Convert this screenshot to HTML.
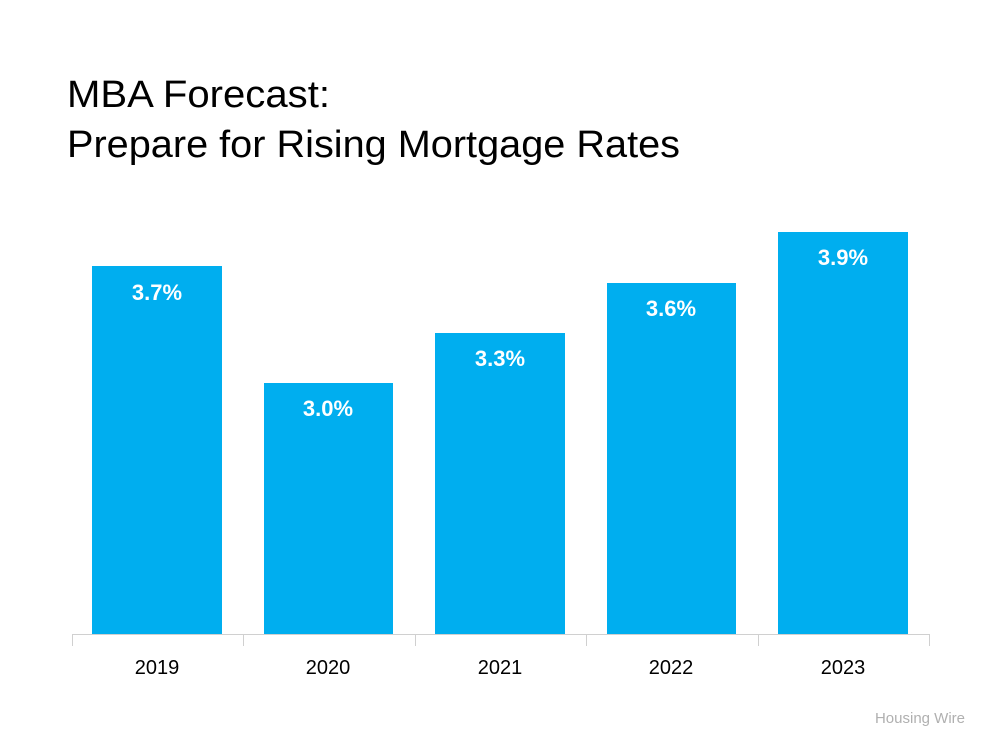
<!DOCTYPE html>
<html><head><meta charset="utf-8"><style>html,body{margin:0;padding:0;background:#fff}</style></head>
<body>
<svg width="1000" height="750" xmlns="http://www.w3.org/2000/svg" font-family="Liberation Sans, sans-serif">
<rect width="1000" height="750" fill="#fff"/>
<text x="67" y="107" font-size="38" fill="#000" textLength="263" lengthAdjust="spacingAndGlyphs">MBA Forecast:</text>
<text x="67" y="157" font-size="38" fill="#000" textLength="613" lengthAdjust="spacingAndGlyphs">Prepare for Rising Mortgage Rates</text>
<g fill="#00aeef">
<rect x="92" y="266" width="130" height="368"/>
<rect x="264" y="383" width="129" height="251"/>
<rect x="435" y="333" width="130" height="301"/>
<rect x="607" y="283" width="129" height="351"/>
<rect x="778" y="232" width="130" height="402"/>
</g>
<g stroke="#d0d0d0" stroke-width="1">
<line x1="72" y1="634.5" x2="930" y2="634.5"/>
<line x1="72.5" y1="634" x2="72.5" y2="646"/>
<line x1="243.5" y1="634" x2="243.5" y2="646"/>
<line x1="415.5" y1="634" x2="415.5" y2="646"/>
<line x1="586.5" y1="634" x2="586.5" y2="646"/>
<line x1="758.5" y1="634" x2="758.5" y2="646"/>
<line x1="929.5" y1="634" x2="929.5" y2="646"/>
</g>
<g fill="#fff" font-size="22" font-weight="bold" text-anchor="middle">
<text x="157" y="300">3.7%</text>
<text x="328" y="416">3.0%</text>
<text x="500" y="366">3.3%</text>
<text x="671" y="316">3.6%</text>
<text x="843" y="265">3.9%</text>
</g>
<g fill="#000" font-size="20" text-anchor="middle">
<text x="157" y="674">2019</text>
<text x="328" y="674">2020</text>
<text x="500" y="674">2021</text>
<text x="671" y="674">2022</text>
<text x="843" y="674">2023</text>
</g>
<text x="965" y="723" font-size="15" fill="#b0b0b0" text-anchor="end">Housing Wire</text>
</svg>
</body></html>
